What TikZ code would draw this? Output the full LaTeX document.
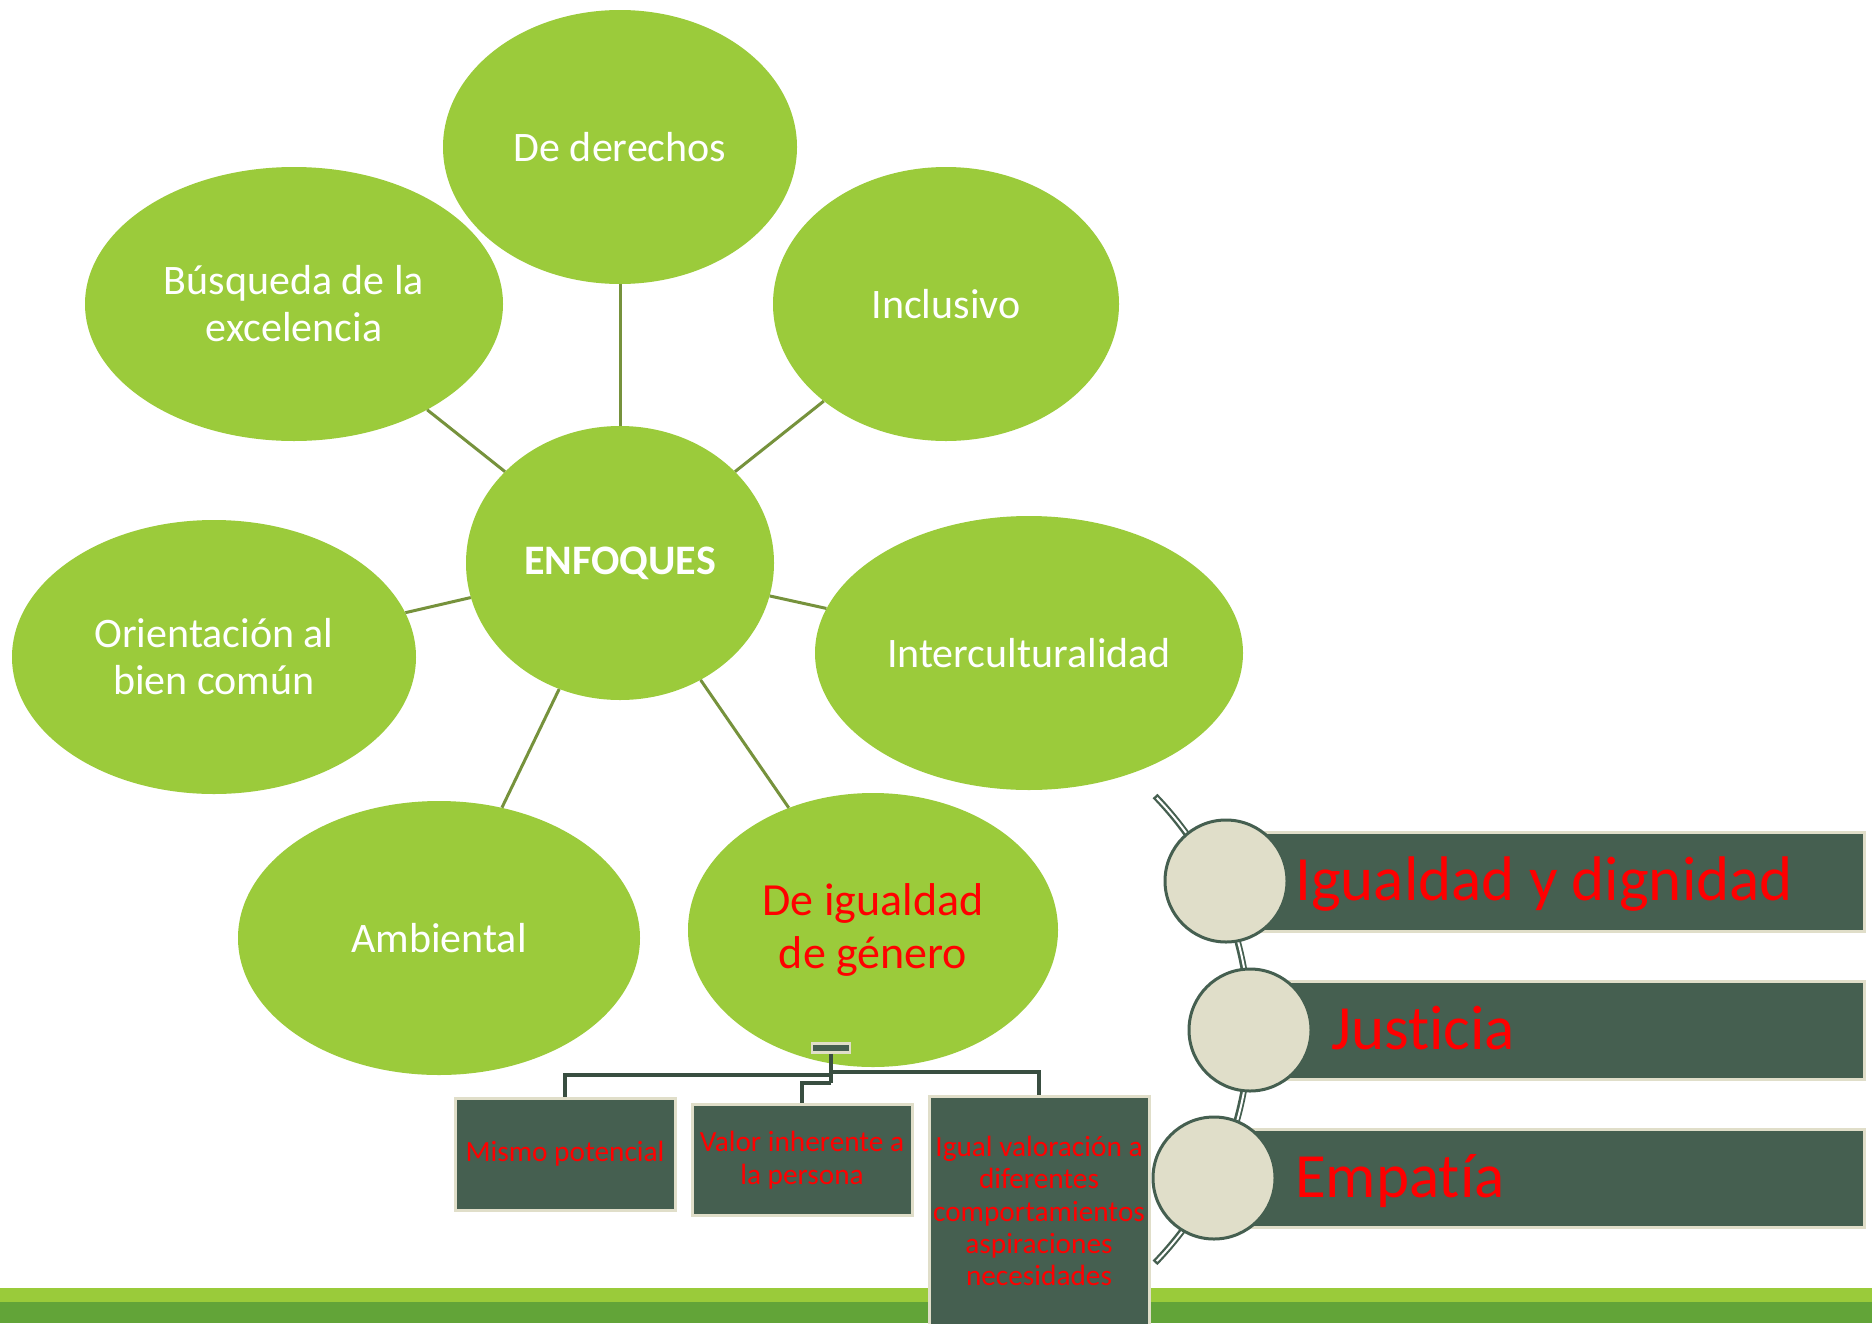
\documentclass[tikz,border=0pt]{standalone}
\usepackage{fontspec}
\setmainfont[Ligatures=NoCommon]{Carlito}
\usetikzlibrary{shapes.geometric}
\definecolor{leaf}{HTML}{9BCB3B}
\definecolor{olive}{HTML}{76923C}
\definecolor{slate}{HTML}{455F50}
\definecolor{beige}{HTML}{E0DEC9}
\definecolor{barlight}{HTML}{9ACB3A}
\definecolor{bardark}{HTML}{62A438}
\definecolor{treeline}{HTML}{394E41}
\begin{document}
\begin{tikzpicture}[x=1pt,y=-1pt,
  bubble/.style={ellipse, fill=leaf, inner sep=0pt, text=white, align=center,
    font=\fontsize{42}{47}\selectfont},
  spoke/.style={draw=olive, line width=3pt},
  leafbox/.style={rectangle, fill=slate, draw=beige, line width=3pt, text=red,
    align=center, inner sep=0pt, minimum width=220pt,
    font=\fontsize{29.3}{32.4}\selectfont},
  tree/.style={draw=treeline, line width=4pt},
  band/.style={rectangle, fill=slate, draw=beige, line width=3pt, inner sep=0pt},
  disc/.style={circle, fill=beige, draw=slate, line width=3pt, minimum size=122pt, inner sep=0pt},
  bandtext/.style={anchor=base west, text=red, inner sep=0pt, font=\fontsize{63}{70}\selectfont},
]
\useasboundingbox (0,0) rectangle (1872,1323);
\fill[white] (0,0) rectangle (1872,1323);

% bottom bars
\fill[barlight] (0,1288) rectangle (1872,1302);
\fill[bardark] (0,1302) rectangle (1872,1323);

% ellipses
\node[bubble, minimum width=354pt, minimum height=274pt] (der) at (620,147) {De derechos};
\node[bubble, minimum width=418pt, minimum height=274pt] (bus) at (294,304) {Búsqueda de la\\excelencia};
\node[bubble, minimum width=346pt, minimum height=274pt] (inc) at (946,304) {Inclusivo};
\node[bubble, minimum width=308pt, minimum height=274pt] (enf) at (620,563) {\bfseries ENFOQUES};
\node[bubble, minimum width=404pt, minimum height=274pt] (ori) at (214,657) {Orientación al\\bien común};
\node[bubble, minimum width=428pt, minimum height=274pt] (int) at (1029,653) {Interculturalidad};
\node[bubble, minimum width=402pt, minimum height=274pt] (amb) at (439,938) {Ambiental};
\node[bubble, minimum width=370pt, minimum height=274pt, text=red,
      font=\fontsize{46}{53}\selectfont] (gen) at (873,930) {De igualdad\\de género};

% spokes
\draw[spoke] (enf) -- (der);
\draw[spoke] (enf) -- (bus);
\draw[spoke] (enf) -- (inc);
\draw[spoke] (enf) -- (ori);
\draw[spoke] (enf) -- (int);
\draw[spoke] (enf) -- (amb);
\draw[spoke] (enf) -- (gen);

% tree under gender ellipse
\node[rectangle, fill=slate, draw=beige, line width=2.5pt, minimum width=38pt,
      minimum height=9pt, inner sep=0pt] (hub) at (831,1048) {};
\node[leafbox, minimum height=112pt] (b1) at (565,1154) {Mismo potencial};
\node[leafbox, minimum height=111pt] (b2) at (802,1160) {Valor inherente a\\la persona};
\node[leafbox, minimum height=230pt] (b3) at (1039,1211)
  {Igual valoración a\\diferentes\\comportamientos\\aspiraciones\\necesidades};
\coordinate (jl) at (831,1075);
\coordinate (jr) at (831,1072);
\coordinate (jm) at (831,1083);
\draw[tree] (hub.south) -- (jm);
\draw[tree] (jl) -| (b1.north);
\draw[tree] (jr) -| (b3.north);
\draw[tree] (jm) -| (b2.north);

% right-hand list
\coordinate (arcstart) at (1155,796);
\draw[draw=slate, line width=6.5pt]
  (arcstart) arc[start angle=-44, end angle=44, radius=336];
\draw[draw=white, line width=2pt, shorten <=2.5pt, shorten >=2.5pt]
  (arcstart) arc[start angle=-44, end angle=44, radius=336];
\node[band, minimum width=638pt, minimum height=99pt] (r1) at (1545,881.5) {};
\node[band, minimum width=614pt, minimum height=98pt] (r2) at (1557,1030) {};
\node[band, minimum width=650pt, minimum height=98pt] (r3) at (1539,1178) {};
\node[disc] (c1) at (1226,881) {};
\node[disc] (c2) at (1250,1030) {};
\node[disc] (c3) at (1214,1178) {};
\node[bandtext] (t1) at (1295,900) {Igualdad y dignidad};
\node[bandtext] (t2) at (1331,1049) {Justicia};
\node[bandtext] (t3) at (1295,1197) {Empatía};
\end{tikzpicture}
\end{document}
